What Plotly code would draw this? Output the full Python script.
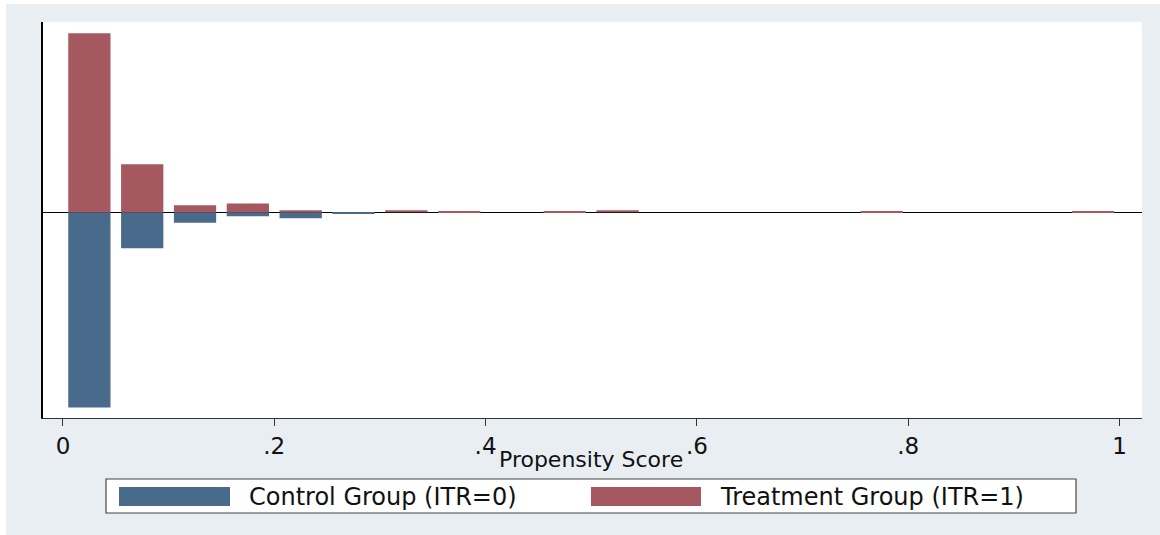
import plotly.graph_objects as go

# ---- data (density per propensity-score bin of width 0.05) ----
bin_centers = [0.025, 0.075, 0.125, 0.175, 0.225, 0.275, 0.325, 0.375, 0.425, 0.475,
               0.525, 0.575, 0.625, 0.675, 0.725, 0.775, 0.825, 0.875, 0.925, 0.975]
control_density = [15.5, 2.85, 0.83, 0.32, 0.48, 0.12, 0, 0, 0, 0,
                   0, 0, 0, 0, 0, 0, 0, 0, 0, 0]
treatment_density = [14.2, 3.8, 0.55, 0.7, 0.16, 0, 0.16, 0.06, 0, 0.06,
                     0.16, 0, 0, 0, 0, 0.06, 0, 0, 0, 0.06]
tick_vals = [0, 0.2, 0.4, 0.6, 0.8, 1]
tick_text = ["0", ".2", ".4", ".6", ".8", "1"]
control_name = "Control Group (ITR=0)"
treatment_name = "Treatment Group (ITR=1)"
x_title = "Propensity Score"

W, H = 1160, 535
L, R, T, B = 43, 18, 22, 117
PW, PH = W - L - R, H - T - B

def px(x):
    return (x - L) / PW

def py(y):
    return (H - B - y) / PH

CONTROL = "#4a6a8c"
TREAT = "#a5585f"
BG = "#e8eef1"
FONT = "DejaVu Sans"

fig = go.Figure()
fig.add_trace(go.Bar(x=bin_centers, y=[-v if v else None for v in control_density], width=0.04,
                     name=control_name, marker=dict(color=CONTROL, line=dict(width=0))))
fig.add_trace(go.Bar(x=bin_centers, y=[v if v else None for v in treatment_density], width=0.04,
                     name=treatment_name, marker=dict(color=TREAT, line=dict(width=0))))

fig.update_layout(
    width=W, height=H, margin=dict(l=L, r=R, t=T, b=B),
    paper_bgcolor=BG, plot_bgcolor="white", barmode="relative", showlegend=False,
    font=dict(family=FONT, color="#111111"),
    xaxis=dict(range=[-0.0189, 1.0213], tickvals=tick_vals, ticktext=tick_text,
               showgrid=False, zeroline=False, showline=True, linecolor="#333333", linewidth=1.2,
               ticks="outside", ticklen=7, tickwidth=1.2, tickcolor="#333333",
               tickfont=dict(size=23, family=FONT, color="#111111")),
    yaxis=dict(range=[-16.33, 15.1], showgrid=False, showticklabels=False, ticks="",
               zeroline=True, zerolinecolor="black", zerolinewidth=1.2,
               showline=True, linecolor="black", linewidth=1.5, layer="above traces"),
)

shapes = [
    # white strips at image edges
    dict(type="rect", xref="paper", yref="paper", x0=px(0), x1=px(6), y0=py(H), y1=py(0),
         fillcolor="white", line=dict(width=0)),
    dict(type="rect", xref="paper", yref="paper", x0=px(0), x1=px(W), y0=py(4), y1=py(0),
         fillcolor="white", line=dict(width=0)),
    # legend box
    dict(type="rect", xref="paper", yref="paper", x0=px(106), x1=px(1076), y0=py(513), y1=py(479),
         fillcolor="white", line=dict(color="#444444", width=1.2)),
    dict(type="rect", xref="paper", yref="paper", x0=px(119), x1=px(230), y0=py(506), y1=py(487),
         fillcolor=CONTROL, line=dict(width=0)),
    dict(type="rect", xref="paper", yref="paper", x0=px(591), x1=px(701), y0=py(506), y1=py(487),
         fillcolor=TREAT, line=dict(width=0)),
]
fig.update_layout(shapes=shapes)

fig.add_annotation(text=x_title, xref="paper", yref="paper", x=px(591), y=py(460),
                   xanchor="center", yanchor="middle", showarrow=False,
                   font=dict(size=22, family=FONT, color="#111111"))
fig.add_annotation(text=control_name, xref="paper", yref="paper", x=px(247), y=py(497),
                   xanchor="left", yanchor="middle", showarrow=False,
                   font=dict(size=24, family=FONT, color="#111111"))
fig.add_annotation(text=treatment_name, xref="paper", yref="paper", x=px(718), y=py(497),
                   xanchor="left", yanchor="middle", showarrow=False,
                   font=dict(size=24, family=FONT, color="#111111"))

fig.write_html("out.html", config={"displayModeBar": False},
               post_script="document.body.style.margin='0';")
